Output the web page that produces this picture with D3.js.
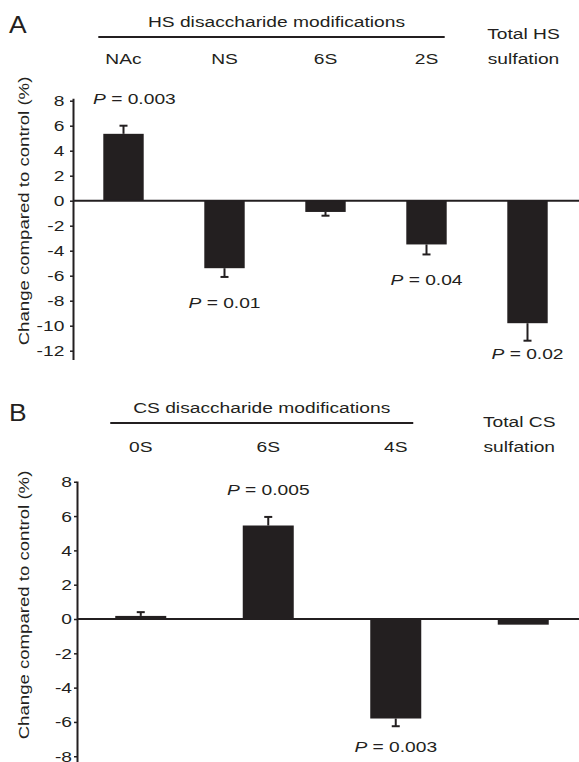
<!DOCTYPE html>
<meta charset="utf-8">
<style>
  body { margin: 0; background: #fff; }
  text { font-family: "Liberation Sans", Arial, sans-serif; fill: #231f20; }
</style>
<body>
<div id="chart"></div>
<script src="https://cdn.jsdelivr.net/npm/d3@7"></script>
<script>
// data
var hsCategories = ["NAc", "NS", "6S", "2S", "Total HS|sulfation"];
var hsValues = [5.35, -5.4, -0.9, -3.5, -9.8];
var hsErrors = [0.65, 0.7, 0.3, 0.8, 1.4];
var hsPvalues = ["0.003", "0.01", null, "0.04", "0.02"];
var hsTicks = [8, 6, 4, 2, 0, -2, -4, -6, -8, -10, -12];

var csCategories = ["0S", "6S", "4S", "Total CS|sulfation"];
var csValues = [0.18, 5.45, -5.8, -0.33];
var csErrors = [0.22, 0.5, 0.45, 0];
var csPvalues = [null, "0.005", "0.003", null];
var csTicks = [8, 6, 4, 2, 0, -2, -4, -6, -8];

var ink = "#231f20";
var fontSize = 15.5, stretch = 1.24;   // the original lettering is wide

var svg = d3.select("#chart")
  .append("svg")
    .attr("width", 579)
    .attr("height", 762);

// text that is stretched sideways like the figure's type
function label(g, x, y, str, anchor) {
  return g.append("text")
    .attr("transform", "translate(" + x + "," + y + ") scale(" + stretch + ",1)")
    .attr("text-anchor", anchor || "middle")
    .style("font-size", fontSize + "px")
    .text(str);
}

// draws one panel
function panel(opt) {
  var g = svg.append("g");

  var x = d3.scaleBand()
    .domain(opt.categories)
    .range(opt.xRange)
    .paddingInner(0.6)
    .paddingOuter(0.3);

  var y = d3.scaleLinear()
    .domain(opt.yDomain)
    .range(opt.yRange);

  var rows = opt.categories.map(function(c, i) {
    return { cat: c, value: opt.values[i], err: opt.errors[i], p: opt.pvalues[i] };
  });
  var mid = function(c) { return x(c) + x.bandwidth() / 2; };

  // panel letter
  g.append("text")
    .attr("transform", "translate(9," + opt.letterY + ") scale(1.1,1)")
    .style("font-size", "24px")
    .text(opt.letter);

  // header + line over the disaccharide groups
  var first = opt.categories[0], last = opt.categories[opt.categories.length - 2];
  var lx0 = x(first) - 5, lx1 = x(last) + x.bandwidth() - opt.lineTrim;
  g.append("line")
    .attr("x1", lx0).attr("x2", lx1)
    .attr("y1", opt.lineY).attr("y2", opt.lineY)
    .attr("stroke", ink)
    .attr("stroke-width", 2);
  label(g, (lx0 + lx1) / 2 + opt.headerShift, opt.lineY - 10, opt.header);

  // category labels
  rows.forEach(function(d) {
    var parts = d.cat.split("|");
    if (parts.length == 1) {
      label(g, mid(d.cat), opt.catY, d.cat);
    } else {
      parts.forEach(function(p, k) {
        label(g, mid(d.cat) - 4, opt.catY - 25 + k * 25, p);
      });
    }
  });

  // y axis
  var axis = g.append("g")
    .attr("transform", "translate(" + opt.xRange[0] + ",0)")
    .call(d3.axisLeft(y)
      .tickValues(opt.ticks)
      .tickFormat(function(d) { return String(d); })
      .tickSize(3).tickSizeOuter(0).tickPadding(opt.tickPad));
  axis.select(".domain").attr("stroke", ink).attr("stroke-width", 2);
  axis.selectAll(".tick line").attr("stroke", ink).attr("stroke-width", 1.5);
  axis.selectAll(".tick text")
    .attr("transform", "scale(" + stretch + ",1)")
    .style("font-size", fontSize + "px")
    .style("font-family", "'Liberation Sans', Arial, sans-serif")
    .attr("fill", ink);

  g.append("text")
    .attr("transform", "translate(29," + opt.labelY + ") rotate(-90) scale(1.2,1)")
    .attr("text-anchor", "middle")
    .style("font-size", fontSize + "px")
    .text("Change compared to control (%)");

  // bars
  g.selectAll(".bar")
    .data(rows)
    .enter().append("rect")
      .attr("x", function(d) { return x(d.cat); })
      .attr("width", x.bandwidth())
      .attr("y", function(d) { return y(Math.max(0, d.value)); })
      .attr("height", function(d) { return Math.abs(y(d.value) - y(0)); })
      .attr("fill", ink);

  // one sided error bars
  rows.forEach(function(d) {
    if (!d.err) return;
    var tip = d.value >= 0 ? d.value + d.err : d.value - d.err;
    g.append("line")
      .attr("x1", mid(d.cat)).attr("x2", mid(d.cat))
      .attr("y1", y(d.value)).attr("y2", y(tip))
      .attr("stroke", ink).attr("stroke-width", 2);
    g.append("line")
      .attr("x1", mid(d.cat) - 4).attr("x2", mid(d.cat) + 4)
      .attr("y1", y(tip)).attr("y2", y(tip))
      .attr("stroke", ink).attr("stroke-width", 2);
  });

  // zero line
  g.append("line")
    .attr("x1", opt.xRange[0]).attr("x2", 579)
    .attr("y1", y(0)).attr("y2", y(0))
    .attr("stroke", ink)
    .attr("stroke-width", 2);

  // P values, kept clear of the y axis
  rows.forEach(function(d) {
    if (!d.p) return;
    var tip = d.value >= 0 ? d.value + d.err : d.value - d.err;
    var ty = d.value >= 0 ? y(tip) - 22 : Math.min(y(tip) + 31, opt.pMaxY);
    var t = label(g, mid(d.cat), ty, "");
    t.append("tspan").style("font-style", "italic").text("P");
    t.append("tspan").text(" = " + d.p);
    var half = t.node().getComputedTextLength() * stretch / 2;
    var cx = Math.max(mid(d.cat), opt.xRange[0] + 20 + half);
    t.attr("transform", "translate(" + cx + "," + ty + ") scale(" + stretch + ",1)");
  });
}

panel({
  letter: "A", letterY: 33,
  header: "HS disaccharide modifications", lineY: 37, lineTrim: 2, headerShift: 5,
  catY: 64,
  categories: hsCategories, values: hsValues, errors: hsErrors, pvalues: hsPvalues,
  ticks: hsTicks, tickPad: 4,
  xRange: [73, 578],
  yDomain: [-12.7, 8.2], yRange: [359.45, 98.2],
  labelY: 211, pMaxY: 359
});

panel({
  letter: "B", letterY: 421,
  header: "CS disaccharide modifications", lineY: 423, lineTrim: 8, headerShift: 0,
  catY: 452,
  categories: csCategories, values: csValues, errors: csErrors, pvalues: csPvalues,
  ticks: csTicks, tickPad: 1,
  xRange: [77, 587],
  yDomain: [-8.3, 8.05], yRange: [761.4, 480.9],
  labelY: 605, pMaxY: 752
});
</script>
</body>
</html>
